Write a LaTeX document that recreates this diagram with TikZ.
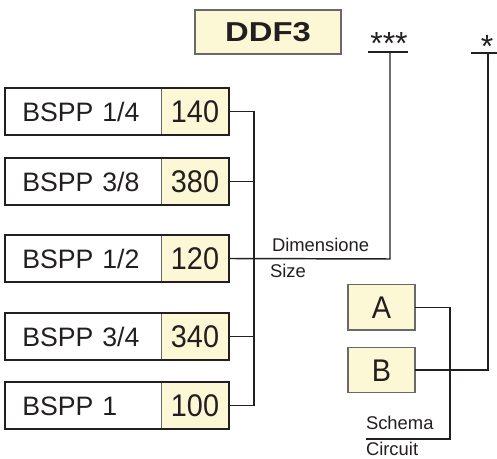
\documentclass[tikz,border=0pt]{standalone}
\usepackage{fontspec}
\setmainfont{Liberation Sans}
\definecolor{ylw}{RGB}{252,247,212}
\definecolor{ink}{RGB}{35,31,32}
\definecolor{gborder}{RGB}{105,105,105}
\begin{document}
\begin{tikzpicture}[x=0.75pt,y=-0.75pt,
  every node/.style={text=ink, inner sep=0pt, outer sep=0pt},
  big/.style={font=\fontsize{20}{22}\selectfont, text height=14.3pt, text depth=0pt},
  bigger/.style={font=\fontsize{23.5}{25}\selectfont, text height=16.8pt, text depth=0pt},
  small/.style={font=\fontsize{13.8}{15}\selectfont},
  lab/.style={big, draw=gborder, line width=0.5pt, fill=white, minimum width=117pt, minimum height=35.25pt,
              inner xsep=13pt, text width=91pt, align=left},
  num/.style={bigger, draw=gborder, line width=0.5pt, fill=ylw, minimum width=51pt, minimum height=35.25pt},
  letterbox/.style={bigger, draw=gborder, line width=1pt, fill=ylw, minimum width=50.25pt, minimum height=34pt},
  frame/.style={draw=ink, line width=1.6pt},
  wire/.style={draw=ink, line width=1.1pt}]
\useasboundingbox (0,0) rectangle (497,459);

% title
\node[draw=gborder, line width=1pt, fill=ylw, minimum width=109.5pt, minimum height=33pt,
      font=\fontsize{20.5}{22}\bfseries\selectfont, text height=14.7pt, text depth=0pt] (title) at (268,32) {\scalebox{1.2}[1]{DDF3}};

% BSPP boxes
\foreach \i/\y/\t/\n in {1/111.5/BSPP 1\slash4/140, 2/181.5/BSPP 3\slash8/380, 3/258.5/BSPP 1\slash2/120, 4/336.5/BSPP 3\slash4/340, 5/405.5/BSPP 1/100}{
  \node[lab] (L\i) at (83,\y) {\t};
  \node[num] (N\i) at (195,\y) {\scalebox{0.92}[1]{\n}};
  \draw[frame] (L\i.north west) rectangle (N\i.south east);
}

% bus
\coordinate (bt) at (254,111.5);
\coordinate (bb) at (254,405.5);
\draw[wire] (N1.east) -- (bt) -- (bb) -- (N5.east);
\draw[wire] (N2.east) -- (N2.east -| bt);
\draw[wire] (N4.east) -- (N4.east -| bt);

% size line
\node[anchor=base, font=\fontsize{24}{26}\selectfont] (s3) at (389,55) {***};
\coordinate (s3l) at (368,52);
\coordinate (s3r) at (408,52);
\draw[wire] (s3l) -- (s3r);
\draw[wire, line width=2pt] (s3l) -- (390,52);
\coordinate (s3c) at (390,52);
\coordinate (s3b) at (390,259);
\draw[wire] (N3.east) -- (s3b) -- (s3c);
\node[small, anchor=base west] (dim) at (272,252) {Dimensione};
\node[small, anchor=base west] (size) at (270,277.5) {Size};

% circuit
\node[letterbox] (A) at (381.5,307.5) {\scalebox{0.92}[1]{A}};
\node[letterbox] (B) at (381.5,370) {\scalebox{0.92}[1]{B}};
\node[anchor=base, font=\fontsize{24}{26}\selectfont] (s1) at (487,58) {*};
\coordinate (s1l) at (471,53);
\coordinate (s1r) at (497,53);
\draw[wire] (s1l) -- (s1r);
\coordinate (s1c) at (488,53);
\coordinate (s1b) at (488,368);
\draw[wire] (B.east) -- (B.east -| s1b) -- (s1c);
\coordinate (ac) at (450,439);
\coordinate (ae) at (366,439);
\draw[wire] (A.east) -- (A.east -| ac) -- (ac) -- (ae);
\node[small, anchor=base west] (sch) at (366,430) {Schema};
\node[small, anchor=base west] (cir) at (366,455.5) {Circuit};
\end{tikzpicture}
\end{document}
